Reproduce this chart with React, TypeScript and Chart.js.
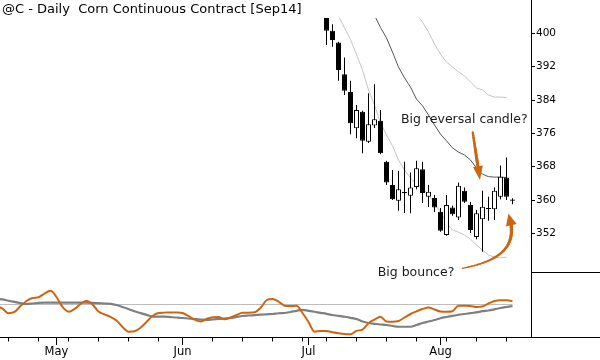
import React, { useEffect, useRef } from 'react';
import { Chart, registerables } from 'chart.js';

Chart.register(...registerables);
Chart.defaults.font.family = '"DejaVu Sans", sans-serif';

// ---------------- DATA ----------------
const TITLE = '@C - Daily  Corn Continuous Contract [Sep14]';

const DATES = [
  '2014-04-16', '2014-04-17', '2014-04-21', '2014-04-22', '2014-04-23', '2014-04-24', '2014-04-25',
  '2014-04-28', '2014-04-29', '2014-04-30', '2014-05-01', '2014-05-02',
  '2014-05-05', '2014-05-06', '2014-05-07', '2014-05-08', '2014-05-09',
  '2014-05-12', '2014-05-13', '2014-05-14', '2014-05-15', '2014-05-16',
  '2014-05-19', '2014-05-20', '2014-05-21', '2014-05-22', '2014-05-23',
  '2014-05-27', '2014-05-28', '2014-05-29', '2014-05-30',
  '2014-06-02', '2014-06-03', '2014-06-04', '2014-06-05', '2014-06-06',
  '2014-06-09', '2014-06-10', '2014-06-11', '2014-06-12', '2014-06-13',
  '2014-06-16', '2014-06-17', '2014-06-18', '2014-06-19', '2014-06-20',
  '2014-06-23', '2014-06-24', '2014-06-25', '2014-06-26', '2014-06-27',
  '2014-06-30', '2014-07-01', '2014-07-02', '2014-07-03',
  '2014-07-07', '2014-07-08', '2014-07-09', '2014-07-10', '2014-07-11',
  '2014-07-14', '2014-07-15', '2014-07-16', '2014-07-17', '2014-07-18',
  '2014-07-21', '2014-07-22', '2014-07-23', '2014-07-24', '2014-07-25',
  '2014-07-28', '2014-07-29', '2014-07-30', '2014-07-31', '2014-08-01',
  '2014-08-04', '2014-08-05', '2014-08-06', '2014-08-07', '2014-08-08',
  '2014-08-11', '2014-08-12', '2014-08-13', '2014-08-14', '2014-08-15',
  '2014-08-18', '2014-08-19',
];

const MONTH_NAMES = ['Jan', 'Feb', 'Mar', 'Apr', 'May', 'Jun', 'Jul', 'Aug', 'Sep', 'Oct', 'Nov', 'Dec'];

// Candles start at this date (earlier bars are above the visible price range)
const CANDLE_START = '2014-07-07';
const OPEN = [
  405.5, 400.6, 397.8, 390.2, 385.9, 377.2, 381.2, 374.0, 377.9, 379.0,
  369.2, 363.6, 359.8, 361.9, 361.0, 363.1, 367.4, 360.8, 360.5, 357.2,
  351.6, 358.2, 355.8, 362.2, 358.8, 351.1, 355.4, 358.1, 357.8, 360.8,
  365.4, 360.1,
];
const HIGH = [
  408.0, 402.2, 398.0, 394.2, 388.6, 382.8, 381.4, 385.6, 387.8, 381.6,
  369.4, 367.2, 367.0, 369.2, 366.6, 369.4, 369.2, 363.6, 361.2, 358.1,
  361.2, 358.7, 364.2, 363.0, 359.5, 357.6, 362.2, 360.8, 363.0, 368.3,
  370.2, 360.4,
];
const LOW = [
  397.2, 396.8, 388.6, 385.2, 375.8, 374.8, 371.2, 373.7, 377.3, 371.0,
  363.6, 360.0, 357.4, 356.9, 356.8, 362.6, 359.3, 358.3, 357.1, 352.4,
  351.4, 356.2, 355.2, 359.3, 352.1, 350.6, 347.6, 355.0, 355.2, 360.2,
  360.0, 359.0,
];
const CLOSE = [
  400.6, 398.4, 391.2, 386.2, 378.4, 381.6, 374.2, 378.2, 379.4, 371.2,
  364.2, 360.2, 362.6, 361.65, 363.0, 367.6, 361.7, 362.0, 358.2, 352.6,
  358.8, 356.6, 363.4, 359.6, 352.8, 356.8, 358.4, 357.85, 362.2, 365.6,
  360.8, 359.85,
];

// Overlay lines on the price panel (aligned with candle dates)
const BAND_UPPER = [
  null, null, null, null, null, null, null, null, null, null,
  null, null, null, null, 407.0, 404.6, 402.7, 400.3, 397.4, 395.0,
  393.1, 391.9, 390.7, 389.8, 388.3, 386.9, 386.4, 385.2, 384.7, 384.7,
  384.6, null,
];
const BAND_MID = [
  null, null, null, null, null, null, null, 407.2, 404.3, 401.4,
  398.9, 395.5, 391.9, 389.3, 387.1, 384.2, 382.6, 380.4, 378.0, 375.8,
  374.2, 372.5, 371.5, 370.8, 369.6, 367.7, 366.2, 365.6, 365.5, 365.5,
  365.4, null,
];
const BAND_LOWER = [
  409.9, 407.0, 404.2, 401.3, 398.5, 394.9, 391.2, 386.4, 382.8, 378.5,
  375.6, 373.0, 369.6, 367.2, 365.3, 363.8, 362.9, 361.2, 359.3, 357.1,
  354.5, 352.8, 352.3, 351.6, 350.6, 349.2, 348.0, 346.8, 346.3, 346.1,
  346.3, null,
];

const PRICE_TICKS = [352, 360, 368, 376, 384, 392, 400];

// Lower oscillator panel (aligned with DATES)
const OSC_FAST = [
  47.7, 43.8, 36.5, 38.5, 47.7, 55.4, 60.0, 61.1, 66.9, 71.1,
  61.5, 46.2, 38.9, 43.1, 50.8, 55.8, 50.0, 39.2, 34.9, 30.8,
  25.4, 15.4, 8.2, 8.9, 14.3, 23.1, 32.3, 36.9, 37.5, 37.8,
  37.7, 36.9, 32.3, 26.9, 23.8, 27.7, 30.5, 30.8, 27.4, 30.0,
  33.8, 37.4, 37.4, 38.0, 44.6, 56.5, 58.5, 54.6, 48.2, 47.7,
  48.0, 36.9, 23.1, 8.2, 9.2, 9.2, 7.4, 5.8, 4.6, 4.3,
  9.5, 11.5, 21.1, 26.9, 31.2, 23.8, 23.5, 24.6, 30.0, 35.4,
  39.5, 43.1, 45.4, 42.3, 39.2, 38.9, 39.7, 48.2, 48.0, 47.7,
  46.2, 46.9, 51.5, 55.4, 56.5, 56.5, 55.4,
];
const OSC_SLOW = [
  58.8, 57.8, 55.8, 54.0, 52.0, 50.8, 51.5, 52.4, 52.8, 52.8,
  52.8, 52.8, 52.8, 52.8, 52.8, 52.8, 52.6, 52.0, 51.5, 51.1,
  49.2, 46.2, 43.0, 39.5, 36.8, 34.0, 31.4, 31.2, 31.2, 30.6,
  30.0, 29.2, 28.5, 27.7, 26.9, 26.2, 26.9, 27.7, 28.5, 29.2,
  30.8, 32.3, 33.1, 33.8, 34.3, 34.9, 35.4, 36.5, 36.9, 38.5,
  40.3, 41.8, 40.3, 38.8, 37.2, 35.7, 33.8, 32.6, 31.1, 29.5,
  27.7, 23.8, 21.5, 20.3, 19.2, 18.5, 16.9, 15.8, 15.8, 15.8,
  18.5, 21.5, 23.8, 26.2, 28.8, 30.8, 32.6, 34.2, 35.4, 36.6,
  37.9, 39.7, 40.8, 42.6, 44.6, 46.2, 47.7,
];
const OSC_REF = 50;

// Annotations, anchored in data units (x = trading-day index, y = price)
const NOTE_TOP = { text: 'Big reversal candle?', x: 67.42, y: 378.55 };
const NOTE_TOP_ARROW = { from: [79.37, 376.25], to: [80.58, 364.8] };
const NOTE_BOTTOM = { text: 'Big bounce?', x: 63.53, y: 341.76 };
const NOTE_BOTTOM_ARROW = {
  p0: [77.63, 343.6], c1: [83.08, 345.12], c2: [86.42, 348.0], p3: [85.75, 354.24], tip: [85.33, 356.76],
};

// ---------------- SCALE SETTINGS & STYLES ----------------
const X_MIN = 7 / 12;
const X_MAX = X_MIN + 88.5;
const Y_MIN = 342.72;
const Y_MAX = 403.68;
const AXIS_W = 69;
const ORANGE = '#CC6612';

const parseDate = (s: string) => new Date(s + 'T00:00:00');
const WEEK_STARTS: number[] = [];
const MONTH_STARTS: number[] = [];
DATES.forEach((d, i) => {
  if (i === 0) return;
  const a = parseDate(DATES[i - 1]);
  const b = parseDate(d);
  if (b.getDay() < a.getDay()) WEEK_STARTS.push(i);
  if (b.getMonth() !== a.getMonth()) MONTH_STARTS.push(i);
});
const monthLabel = (i: number) => MONTH_NAMES[parseDate(DATES[i]).getMonth()];

const candleStartIdx = DATES.indexOf(CANDLE_START);
const candleX = OPEN.map((_, i) => candleStartIdx + i);

function drawArrowHead(ctx: CanvasRenderingContext2D, fx: number, fy: number, tx: number, ty: number, len: number, half: number) {
  const dx = tx - fx;
  const dy = ty - fy;
  const d = Math.hypot(dx, dy) || 1;
  const ux = dx / d;
  const uy = dy / d;
  const bx = tx - ux * len;
  const by = ty - uy * len;
  ctx.beginPath();
  ctx.moveTo(tx, ty);
  ctx.lineTo(bx - uy * half, by + ux * half);
  ctx.lineTo(bx + uy * half, by - ux * half);
  ctx.closePath();
  ctx.fill();
  return [bx, by];
}

function strokeTapered(ctx: CanvasRenderingContext2D, pts: number[][], w0: number, w1: number) {
  ctx.lineCap = 'round';
  for (let i = 1; i < pts.length; i++) {
    const t = i / (pts.length - 1);
    ctx.lineWidth = w0 + (w1 - w0) * t;
    ctx.beginPath();
    ctx.moveTo(pts[i - 1][0], pts[i - 1][1]);
    ctx.lineTo(pts[i][0], pts[i][1]);
    ctx.stroke();
  }
}

const topDecor = {
  id: 'topDecor',
  afterDraw(chart: any) {
    const { ctx, chartArea, scales } = chart;
    const xs = scales.x;
    const ys = scales.y;
    const P = (p: number[]) => [xs.getPixelForValue(p[0]), ys.getPixelForValue(p[1])];
    ctx.save();
    // title
    ctx.fillStyle = '#000';
    ctx.font = '13px "DejaVu Sans"';
    ctx.textBaseline = 'alphabetic';
    ctx.textAlign = 'left';
    ctx.fillText(TITLE, 2, 13);
    // axis line above plot area
    ctx.strokeStyle = '#000';
    ctx.lineWidth = 1;
    ctx.beginPath();
    const ax = Math.round(chartArea.right - 0.5) + 0.5;
    ctx.moveTo(ax, 0);
    ctx.lineTo(ax, chartArea.top);
    ctx.stroke();

    // annotations
    ctx.font = '12.5px "DejaVu Sans"';
    ctx.fillStyle = '#1a1a1a';
    ctx.fillText(NOTE_TOP.text, xs.getPixelForValue(NOTE_TOP.x), ys.getPixelForValue(NOTE_TOP.y));
    ctx.fillText(NOTE_BOTTOM.text, xs.getPixelForValue(NOTE_BOTTOM.x), ys.getPixelForValue(NOTE_BOTTOM.y));

    ctx.fillStyle = ORANGE;
    ctx.strokeStyle = ORANGE;
    // arrow 1
    const [f1x, f1y] = P(NOTE_TOP_ARROW.from);
    const [t1x, t1y] = P(NOTE_TOP_ARROW.to);
    const [b1x, b1y] = drawArrowHead(ctx, f1x, f1y, t1x, t1y, 14, 5);
    const pts1: number[][] = [];
    for (let i = 0; i <= 12; i++) {
      const t = i / 12;
      pts1.push([f1x + (b1x - f1x) * t, f1y + (b1y - f1y) * t]);
    }
    strokeTapered(ctx, pts1, 2.2, 3.2);
    // arrow 2
    const p0 = P(NOTE_BOTTOM_ARROW.p0);
    const c1 = P(NOTE_BOTTOM_ARROW.c1);
    const c2 = P(NOTE_BOTTOM_ARROW.c2);
    const p3 = P(NOTE_BOTTOM_ARROW.p3);
    const tip = P(NOTE_BOTTOM_ARROW.tip);
    const pts2: number[][] = [];
    for (let i = 0; i <= 30; i++) {
      const t = i / 30;
      const m = 1 - t;
      pts2.push([
        m * m * m * p0[0] + 3 * m * m * t * c1[0] + 3 * m * t * t * c2[0] + t * t * t * p3[0],
        m * m * m * p0[1] + 3 * m * m * t * c1[1] + 3 * m * t * t * c2[1] + t * t * t * p3[1],
      ]);
    }
    strokeTapered(ctx, pts2, 1.2, 3.4);
    drawArrowHead(ctx, p3[0], p3[1], tip[0], tip[1], 12, 5.5);
    ctx.restore();
  },
};

const bottomDecor = {
  id: 'bottomDecor',
  afterDraw(chart: any) {
    const { ctx, chartArea, scales, width } = chart;
    const xs = scales.x;
    ctx.save();
    ctx.strokeStyle = '#000';
    ctx.lineWidth = 1;
    ctx.beginPath();
    const by = Math.round(chartArea.bottom - 0.5) + 0.5;
    const ty = Math.round(chartArea.top - 0.5) + 0.5;
    WEEK_STARTS.forEach((i) => {
      const px = Math.round(xs.getPixelForValue(i) - 0.5) + 0.5;
      ctx.moveTo(px, by);
      ctx.lineTo(px, by + 4);
    });
    ctx.moveTo(chartArea.right, by);
    ctx.lineTo(width, by);
    ctx.moveTo(chartArea.right, ty);
    ctx.lineTo(width, ty);
    ctx.stroke();
    ctx.restore();
  },
};

export default function App() {
  const topRef = useRef<HTMLCanvasElement>(null);
  const botRef = useRef<HTMLCanvasElement>(null);

  useEffect(() => {
    document.body.style.margin = '0';
    const lineCommon = { pointRadius: 0, pointHoverRadius: 0, fill: false, clip: 0 } as any;

    const bottom = new Chart(botRef.current as HTMLCanvasElement, {
      type: 'line',
      data: {
        datasets: [
          {
            ...lineCommon,
            data: OSC_FAST.map((v, i) => ({ x: i, y: v })),
            borderColor: ORANGE,
            borderWidth: 2,
            cubicInterpolationMode: 'monotone',
            order: 0,
          },
          {
            ...lineCommon,
            data: OSC_SLOW.map((v, i) => ({ x: i, y: v })),
            borderColor: '#7f7f7f',
            borderWidth: 2.2,
            cubicInterpolationMode: 'monotone',
            order: 1,
          },
          {
            ...lineCommon,
            data: [{ x: 0, y: OSC_REF }, { x: DATES.length - 1, y: OSC_REF }],
            borderColor: '#bdbdbd',
            borderWidth: 1,
            order: 2,
          },
        ],
      } as any,
      options: {
        responsive: false,
        animation: false,
        events: [],
        layout: { padding: { top: 272, left: 0, right: 0, bottom: 0 } },
        plugins: { legend: { display: false }, tooltip: { enabled: false }, title: { display: false } },
        scales: {
          x: {
            type: 'linear',
            min: X_MIN,
            max: X_MAX,
            offset: false,
            bounds: 'data',
            afterFit: (s: any) => { s.height = 23; },
            afterBuildTicks: (s: any) => { s.ticks = MONTH_STARTS.map((v) => ({ value: v })); },
            ticks: {
              callback: (v: any) => monthLabel(Number(v)),
              autoSkip: false,
              maxRotation: 0,
              minRotation: 0,
              padding: 0,
              color: '#000',
              font: { size: 11.5 },
            },
            grid: { drawOnChartArea: false, drawTicks: true, tickLength: 8, color: '#000', offset: false },
            border: { display: true, color: '#000', width: 1 },
          },
          y: {
            type: 'linear',
            position: 'right',
            min: 0,
            max: 100,
            afterFit: (s: any) => { s.width = AXIS_W; },
            ticks: { display: false },
            grid: { display: false },
            border: { display: true, color: '#000', width: 1 },
          },
        },
      } as any,
      plugins: [bottomDecor],
    });

    const top = new Chart(topRef.current as HTMLCanvasElement, {
      type: 'bar',
      data: {
        datasets: [
          {
            type: 'bar',
            data: candleX.map((x, i) => ({ x, y: [Math.min(OPEN[i], CLOSE[i]), Math.max(OPEN[i], CLOSE[i])] })),
            backgroundColor: (c: any) => (CLOSE[c.dataIndex] >= OPEN[c.dataIndex] ? '#ffffff' : '#000000'),
            borderColor: '#000',
            borderWidth: 1,
            borderSkipped: false,
            barThickness: 5,
            maxBarThickness: 5,
            grouped: false,
            inflateAmount: 0,
            clip: 0,
            order: 0,
          },
          {
            type: 'bar',
            data: candleX.map((x, i) => ({ x, y: [LOW[i], HIGH[i]] })),
            backgroundColor: '#000',
            borderWidth: 0,
            barThickness: 1,
            maxBarThickness: 1,
            grouped: false,
            inflateAmount: 0,
            clip: 0,
            order: 1,
          },
          {
            type: 'line',
            ...lineCommon,
            data: candleX.map((x, i) => ({ x, y: BAND_MID[i] })),
            borderColor: '#555555',
            borderWidth: 1,
            order: 2,
          },
          {
            type: 'line',
            ...lineCommon,
            data: candleX.map((x, i) => ({ x, y: BAND_UPPER[i] })),
            borderColor: '#c4c4c4',
            borderWidth: 1,
            order: 3,
          },
          {
            type: 'line',
            ...lineCommon,
            data: candleX.map((x, i) => ({ x, y: BAND_LOWER[i] })),
            borderColor: '#c4c4c4',
            borderWidth: 1,
            order: 4,
          },
        ],
      } as any,
      options: {
        responsive: false,
        animation: false,
        events: [],
        layout: { padding: { top: 18, bottom: 88, left: 0, right: 0 } },
        plugins: { legend: { display: false }, tooltip: { enabled: false }, title: { display: false } },
        scales: {
          x: { type: 'linear', min: X_MIN, max: X_MAX, display: false, offset: false, bounds: 'data' },
          y: {
            type: 'linear',
            position: 'right',
            min: Y_MIN,
            max: Y_MAX,
            beginAtZero: false,
            afterFit: (s: any) => { s.width = AXIS_W; },
            afterBuildTicks: (s: any) => { s.ticks = PRICE_TICKS.map((v) => ({ value: v })); },
            grid: { drawOnChartArea: false, drawTicks: true, tickLength: 4, color: '#000' },
            border: { display: true, color: '#000', width: 1 },
            ticks: { padding: 1, color: '#000', font: { size: 10.5 } },
          },
        },
      } as any,
      plugins: [topDecor],
    });

    return () => {
      top.destroy();
      bottom.destroy();
    };
  }, []);

  return (
    <div style={{ position: 'relative', width: 600, height: 360, background: '#fff', overflow: 'hidden' }}>
      <canvas ref={botRef} width={600} height={360} style={{ position: 'absolute', left: 0, top: 0 }} />
      <canvas ref={topRef} width={600} height={360} style={{ position: 'absolute', left: 0, top: 0 }} />
    </div>
  );
}
